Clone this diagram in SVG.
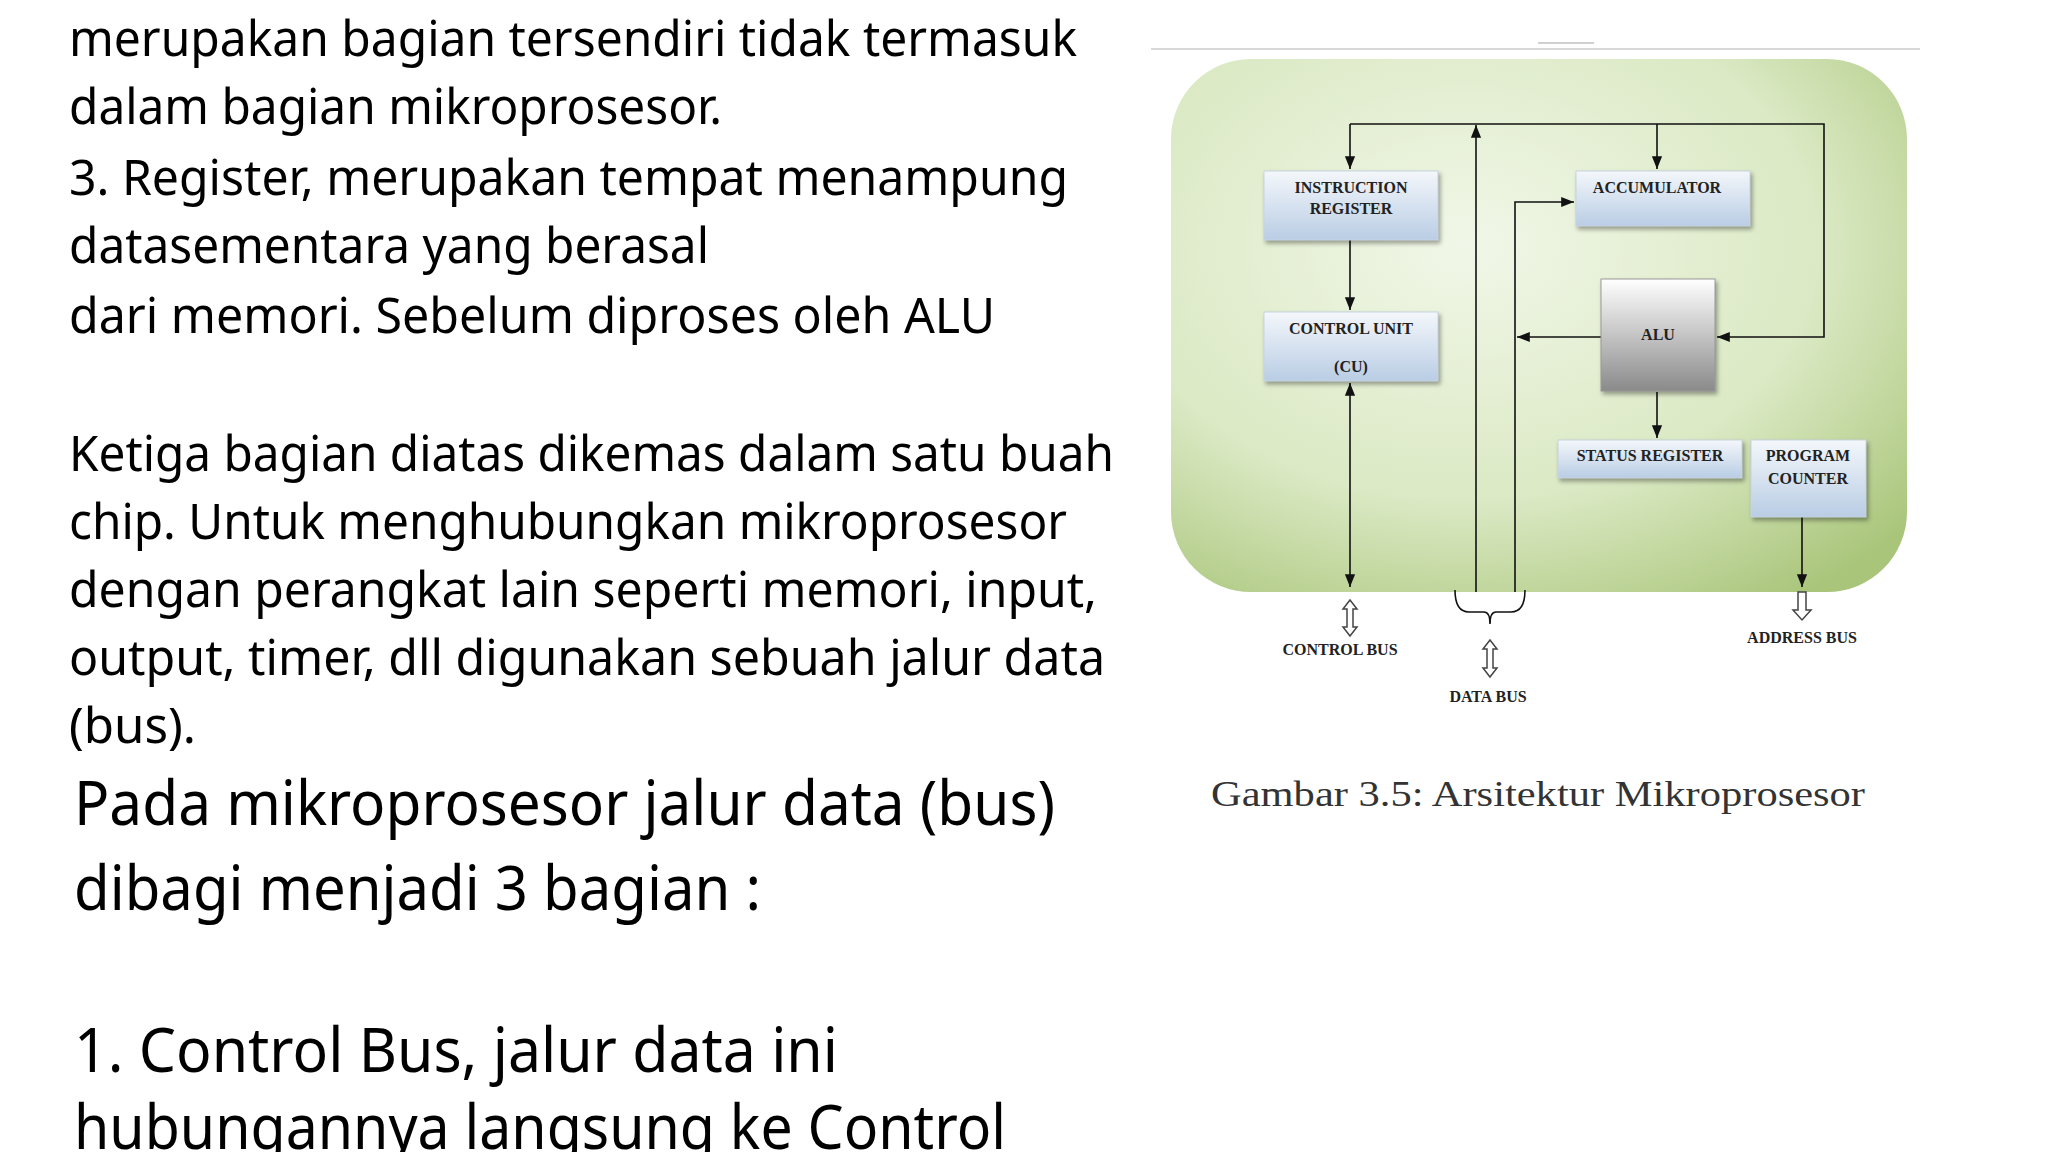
<svg xmlns="http://www.w3.org/2000/svg" width="2048" height="1152" viewBox="0 0 2048 1152">
<defs>
<radialGradient id="g" cx="0.4" cy="0.35" r="0.8">
<stop offset="0" stop-color="#f1f7e8"/><stop offset="0.6" stop-color="#dbe9c4"/><stop offset="1" stop-color="#a9c57a"/>
</radialGradient>
<linearGradient id="b" x1="0" y1="0" x2="0" y2="1"><stop offset="0" stop-color="#f4f7fb"/><stop offset="1" stop-color="#b9cde4"/></linearGradient>
<linearGradient id="a" x1="0" y1="0" x2="0" y2="1"><stop offset="0" stop-color="#ffffff"/><stop offset="1" stop-color="#8a8a8a"/></linearGradient>
<marker id="m" viewBox="0 0 10 10" refX="10" refY="5" markerWidth="8" markerHeight="8" orient="auto-start-reverse"><path d="M0,1 L10,5 L0,9 z" fill="#111"/></marker>
</defs>
<style>
.t{font-family:"Noto Sans","Open Sans",sans-serif;font-size:50px;fill:#000}
.T{font-family:"Noto Sans","Open Sans",sans-serif;font-size:62px;fill:#000}
.bx{stroke:#c8d3e0;stroke-width:1;filter:drop-shadow(2px 3px 2px rgba(0,0,0,0.35))}
.l{font-family:"Liberation Serif",serif;font-weight:bold;font-size:16px;fill:#222;text-anchor:middle}
.c{stroke:#111;stroke-width:1.6;fill:none}
.h{stroke:#444;stroke-width:1.5;fill:#fff}
</style>
<rect width="2048" height="1152" fill="#fff"/>
<g id="text">
<text class="t" x="69" y="56" textLength="1008" lengthAdjust="spacingAndGlyphs">merupakan bagian tersendiri tidak termasuk</text>
<text class="t" x="69" y="124" textLength="653" lengthAdjust="spacingAndGlyphs">dalam bagian mikroprosesor.</text>
<text class="t" x="69" y="195" textLength="999" lengthAdjust="spacingAndGlyphs">3. Register, merupakan tempat menampung</text>
<text class="t" x="69" y="263" textLength="640" lengthAdjust="spacingAndGlyphs">datasementara yang berasal</text>
<text class="t" x="69" y="333" textLength="926" lengthAdjust="spacingAndGlyphs">dari memori. Sebelum diproses oleh ALU</text>
<text class="t" x="69" y="471" textLength="1045" lengthAdjust="spacingAndGlyphs">Ketiga bagian diatas dikemas dalam satu buah</text>
<text class="t" x="69" y="539" textLength="998" lengthAdjust="spacingAndGlyphs">chip. Untuk menghubungkan mikroprosesor</text>
<text class="t" x="69" y="607" textLength="1028" lengthAdjust="spacingAndGlyphs">dengan perangkat lain seperti memori, input,</text>
<text class="t" x="69" y="675" textLength="1036" lengthAdjust="spacingAndGlyphs">output, timer, dll digunakan sebuah jalur data</text>
<text class="t" x="69" y="743" textLength="127" lengthAdjust="spacingAndGlyphs">(bus).</text>
<text class="T" x="74" y="825" textLength="981" lengthAdjust="spacingAndGlyphs">Pada mikroprosesor jalur data (bus)</text>
<text class="T" x="74" y="910" textLength="687" lengthAdjust="spacingAndGlyphs">dibagi menjadi 3 bagian :</text>
<text class="T" x="74" y="1072" textLength="764" lengthAdjust="spacingAndGlyphs">1. Control Bus, jalur data ini</text>
<text class="T" x="74" y="1149" textLength="932" lengthAdjust="spacingAndGlyphs">hubungannya langsung ke Control</text>
</g>
<g id="frame">
<line x1="1151" y1="49" x2="1920" y2="49" stroke="#d8d8d8" stroke-width="2"/>
<line x1="1538" y1="43" x2="1594" y2="43" stroke="#d0d0d0" stroke-width="2"/>
<rect x="1171" y="59" width="736" height="533" rx="80" fill="url(#g)"/>
</g>
<g id="connectors">
<path class="c" d="M1350,124 H1824 V337 H1717" marker-end="url(#m)"/>
<path class="c" d="M1350,124 V169" marker-end="url(#m)"/>
<path class="c" d="M1657,124 V169" marker-end="url(#m)"/>
<path class="c" d="M1476,592 V125" marker-end="url(#m)"/>
<path class="c" d="M1515,592 V202 H1574" marker-end="url(#m)"/>
<path class="c" d="M1601,337 H1517" marker-end="url(#m)"/>
<path class="c" d="M1350,240 V310" marker-end="url(#m)"/>
<path class="c" d="M1350,383 V587" marker-start="url(#m)" marker-end="url(#m)"/>
<path class="c" d="M1657,392 V438" marker-end="url(#m)"/>
<path class="c" d="M1802,517 V587" marker-end="url(#m)"/>
<path class="h" d="M1350,600 l-7,9 h4 v18 h-4 l7,9 l7,-9 h-4 v-18 h4 z"/>
<path class="c" stroke="#555" d="M1455,590 q0,22 14,22 h15 q6,0 6,12 q0,-12 6,-12 h15 q14,0 14,-22"/>
<path class="h" d="M1490,640 l-7,9 h4 v19 h-4 l7,9 l7,-9 h-4 v-19 h4 z"/>
<path class="h" d="M1798,592 v18 h-5 l9,10 l9,-10 h-5 v-18 z"/>
</g>
<g id="ir"><rect class="bx" x="1264" y="171" width="174" height="69" fill="url(#b)"/><text class="l" x="1351" y="193">INSTRUCTION</text><text class="l" x="1351" y="214">REGISTER</text></g>
<g id="acc"><rect class="bx" x="1576" y="171" width="174" height="55" fill="url(#b)"/><text class="l" x="1657" y="193">ACCUMULATOR</text></g>
<g id="cu"><rect class="bx" x="1264" y="312" width="174" height="69" fill="url(#b)"/><text class="l" x="1351" y="334">CONTROL UNIT</text><text class="l" x="1351" y="372">(CU)</text></g>
<g id="alu"><rect x="1601" y="279" width="114" height="112" fill="url(#a)" stroke="#999" style="filter:drop-shadow(2px 3px 2px rgba(0,0,0,0.35))"/><text class="l" x="1658" y="340">ALU</text></g>
<g id="sr"><rect class="bx" x="1558" y="440" width="184" height="38" fill="url(#b)"/><text class="l" x="1650" y="461">STATUS REGISTER</text></g>
<g id="pc"><rect class="bx" x="1751" y="440" width="115" height="77" fill="url(#b)"/><text class="l" x="1808" y="461">PROGRAM</text><text class="l" x="1808" y="484">COUNTER</text></g>
<g id="labels">
<text class="l" x="1340" y="655">CONTROL BUS</text>
<text class="l" x="1488" y="702">DATA BUS</text>
<text class="l" x="1802" y="643">ADDRESS BUS</text>
<text x="1538" y="806" font-family="Liberation Serif,serif" font-size="36" fill="#333" text-anchor="middle" textLength="654" lengthAdjust="spacingAndGlyphs">Gambar 3.5:  Arsitektur Mikroprosesor</text>
</g>
</svg>
